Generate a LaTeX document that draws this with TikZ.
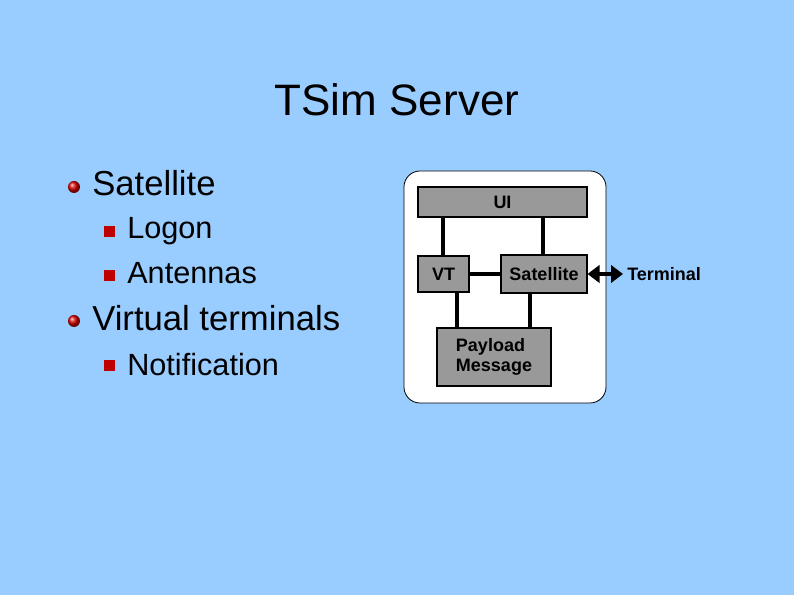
\documentclass[tikz,border=0pt]{standalone}
\usepackage{fontspec}
\setmainfont{Liberation Sans}
\usetikzlibrary{arrows.meta}
\begin{document}
\begin{tikzpicture}[x=0.75pt,y=-0.75pt,
  blk/.style={draw=black,fill=black!40,line width=0.8pt,inner sep=0pt},
  lnk/.style={line width=3pt},
  lvl1/.style={anchor=west,font=\fontsize{26}{30}\selectfont,inner sep=0pt},
  lvl2/.style={anchor=west,font=\fontsize{23}{26}\selectfont,inner sep=0pt},
  btxt/.style={font=\bfseries\fontsize{13.5}{15}\selectfont}]
\fill[fill={rgb,255:red,153;green,204;blue,255}] (0,0) rectangle (794,595);
\useasboundingbox (0,0) rectangle (794,595);
\node[font=\fontsize{33}{38}\selectfont] (title) at (397,100) {TSim Server};
% bullets
\shade[ball color=red!85!black] (74,187) circle (6);
\shade[ball color=red!85!black] (74,321) circle (6);
\foreach \y in {232,276,366} \fill[red!75!black] (104,\y-5.5) rectangle ++(11,11);
\node[lvl1] (s1) at (92,183) {Satellite};
\node[lvl2] (s2) at (127,231) {Logon};
\node[lvl2] (s3) at (127,273) {Antennas};
\node[lvl1] (s4) at (92,318) {Virtual terminals};
\node[lvl2] (s5) at (127,365) {Notification};
% diagram
\draw[fill=white,rounded corners=12pt,line width=0.6pt] (404,171) rectangle (606,403);
\draw[lnk] (443,217) -- (443,256);
\draw[lnk] (543,217) -- (543,255);
\draw[lnk] (469,274) -- (501,274);
\draw[lnk] (457,292) -- (457,328);
\draw[lnk] (530,293) -- (530,328);
\node[blk,minimum width=169*0.75pt,minimum height=30*0.75pt,btxt] (ui) at (502.5,202) {UI};
\node[blk,minimum width=51*0.75pt,minimum height=36*0.75pt,btxt] (vt) at (443.5,274) {VT};
\node[blk,minimum width=86*0.75pt,minimum height=38*0.75pt,btxt] (sat) at (544,274) {Satellite};
\node[blk,minimum width=114*0.75pt,minimum height=58*0.75pt,btxt,align=left] (pm) at (494,357) {Payload\\Message};
\node[btxt,anchor=west,inner sep=0pt] (term) at (627,274) {Terminal};
\draw[line width=3pt,{Triangle[length=9pt,width=13pt]}-{Triangle[length=9pt,width=13pt]}] (sat.east) -- ([xshift=-3pt]term.west);
\end{tikzpicture}
\end{document}
